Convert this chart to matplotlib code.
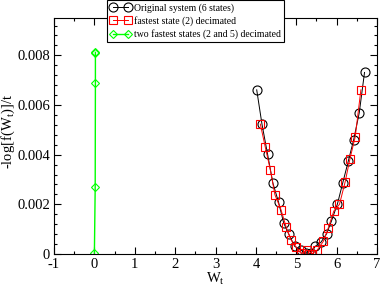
import matplotlib
matplotlib.use("Agg")
import matplotlib.pyplot as plt
from matplotlib.ticker import MultipleLocator

plt.rcParams['font.family'] = ['Liberation Serif', 'DejaVu Serif']
plt.rcParams['mathtext.fontset'] = 'custom'
plt.rcParams['mathtext.rm'] = 'Liberation Serif'
plt.rcParams['mathtext.it'] = 'Liberation Serif:italic'
plt.rcParams['axes.unicode_minus'] = False

# original system (6 states)
w_orig = [4.02, 4.15, 4.29, 4.42, 4.56, 4.69, 4.81, 4.96, 5.11, 5.23, 5.36,
          5.47, 5.61, 5.75, 5.87, 6.02, 6.15, 6.29, 6.42, 6.56, 6.69]
v_orig = [0.00661, 0.00523, 0.00401, 0.00286, 0.00209, 0.00124, 0.00081,
          0.00031, 0.00016, 0.00005, 0.00002, 0.00031, 0.00047, 0.00081,
          0.00132, 0.00202, 0.00286, 0.00375, 0.00459, 0.00569, 0.00731]

# fastest state (2) decimated
w_dec1 = [4.11, 4.23, 4.36, 4.47, 4.62, 4.75, 4.87, 5.00, 5.12, 5.27, 5.40,
          5.52, 5.67, 5.79, 5.93, 6.07, 6.21, 6.33, 6.46, 6.60]
v_dec1 = [0.00523, 0.00432, 0.00337, 0.00239, 0.00179, 0.00108, 0.00057,
          0.00027, 0.00002, 0.00016, 0.00001, 0.00016, 0.00051, 0.00104,
          0.00173, 0.00200, 0.00290, 0.00384, 0.00472, 0.00661]

# two fastest states (2 and 5) decimated
w_dec2 = [0.0, 0.02, 0.025, 0.025, 0.025]
v_dec2 = [0.00003, 0.0027, 0.0069, 0.0081, 0.00812]

fig = plt.figure(figsize=(3.82, 2.87), dpi=100)
ax = fig.add_axes([0.1414, 0.115, 0.8456, 0.822])

ax.plot(w_orig, v_orig, color='black', lw=0.7, marker='o', ms=6.5,
        mfc='none', mew=0.8, label='Original system (6 states)')
ax.plot(w_dec1, v_dec1, color='red', lw=0.7, marker='s', ms=5.5,
        mfc='none', mew=0.8, label='fastest state (2) decimated')
ax.plot(w_dec2, v_dec2, color='#00ff00', lw=1.0, marker='D', ms=4.5,
        mfc='none', mew=0.8, label='two fastest states (2 and 5) decimated')

ax.set_xlim(-1, 7)
ax.set_ylim(0, 0.0095)
ax.xaxis.set_major_locator(MultipleLocator(1))
ax.xaxis.set_minor_locator(MultipleLocator(0.5))
ax.yaxis.set_major_locator(MultipleLocator(0.002))
ax.yaxis.set_minor_locator(MultipleLocator(0.0004))
ax.yaxis.set_major_formatter(plt.FuncFormatter(lambda v, p: '0' if v == 0 else f'{v:.3f}'))
ax.tick_params(which='both', direction='in', top=True, right=True, labelsize=10.5)
ax.tick_params(which='major', length=5, width=0.8)
ax.tick_params(axis='x', which='major', pad=3)
ax.tick_params(axis='y', which='major', pad=3)
ax.tick_params(which='minor', length=2.5, width=0.8)
for s in ax.spines.values():
    s.set_linewidth(0.8)

ax.set_xlabel('W$_\\mathrm{t}$', fontsize=10.5, labelpad=0)
ax.set_ylabel('-log[f(W$_\\mathrm{t}$)]/t', fontsize=10.5)
ax.yaxis.set_label_coords(-0.115, 0.52)

leg = fig.legend(loc='upper left', bbox_to_anchor=(0.28, 1.0), fontsize=7,
                 numpoints=2, fancybox=False, framealpha=1, edgecolor='black',
                 borderpad=0.3, labelspacing=0.35, handlelength=2.2,
                 handletextpad=0.3, borderaxespad=0)
leg.get_frame().set_linewidth(0.8)

fig.savefig('out.png', dpi=100)
